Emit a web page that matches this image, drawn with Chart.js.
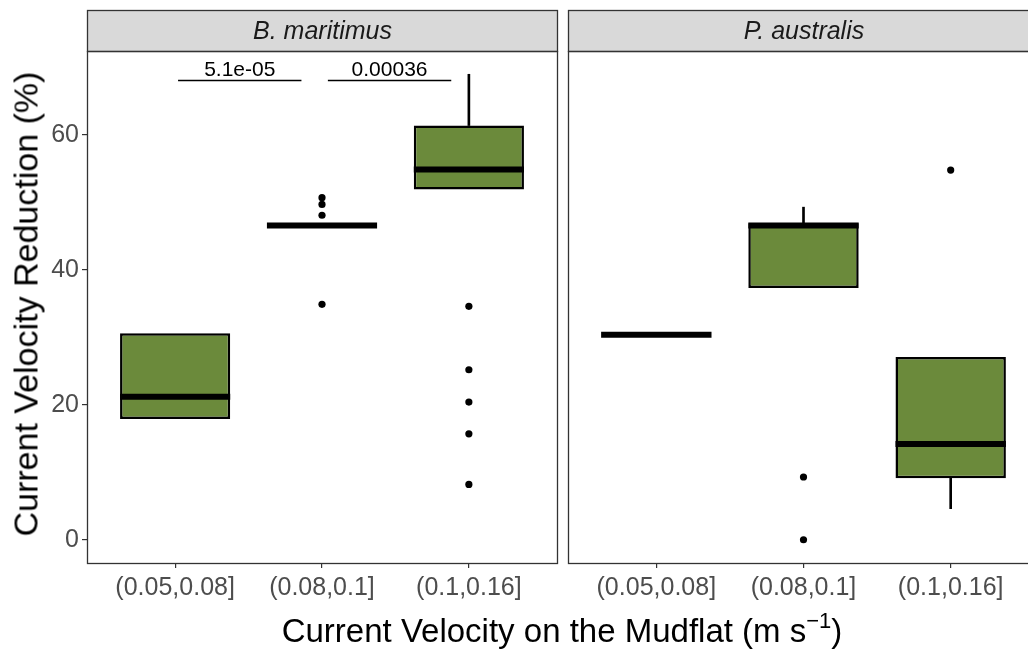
<!DOCTYPE html>
<html><head><meta charset="utf-8">
<script src="https://cdn.jsdelivr.net/npm/chart.js@4.4.1/dist/chart.umd.min.js"></script>
<style>
html,body{margin:0;padding:0;overflow:hidden;background:#fff;width:1028px;height:650px;position:relative;}
#c1{position:absolute;left:0;top:0;}
#c2{position:absolute;left:562px;top:0;}
.ytitle{position:absolute;left:26px;top:304px;transform:translate(-50%,-50%) rotate(-90deg);font:34px "Liberation Sans",Arial,sans-serif;white-space:nowrap;color:#000;}
.xtitle{position:absolute;left:562px;top:630px;transform:translate(-50%,-50%);font:33px "Liberation Sans",Arial,sans-serif;white-space:nowrap;color:#000;}
.xtitle sup{font-size:22px;position:relative;top:-2px;}
</style>
</head><body>
<canvas id="c1" width="562" height="650"></canvas>
<canvas id="c2" width="488" height="650"></canvas>
<div class="ytitle">Current Velocity Reduction (%)</div>
<div class="xtitle">Current Velocity on the Mudflat (m s<sup>&minus;1</sup>)</div>
<script>
// ---- data ----
const categories = ['(0.05,0.08]', '(0.08,0.1]', '(0.1,0.16]'];
const facetLabels = ['B. maritimus', 'P. australis'];
const yTicks = [0, 20, 40, 60];

// B. maritimus
const bmQ1 = [17.9, 46.3, 51.9];
const bmMedian = [21.2, 46.6, 54.9];
const bmQ3 = [30.6, 46.9, 61.4];
const bmWhiskerLow = [17.9, 46.3, 51.9];
const bmWhiskerHigh = [30.6, 46.9, 69.0];
const bmOutliers = [[], [50.7, 49.7, 48.1, 34.9], [34.6, 25.2, 20.4, 15.7, 8.2]];

// P. australis
const paQ1 = [30.4, 37.3, 9.1];
const paMedian = [30.4, 46.6, 14.2];
const paQ3 = [30.4, 46.9, 27.1];
const paWhiskerLow = [30.4, 37.3, 4.6];
const paWhiskerHigh = [30.4, 49.3, 27.1];
const paOutliers = [[], [9.3, 0.0], [54.8]];

// significance annotations (B. maritimus panel)
const sigFrom = [1.02, 2.04];
const sigTo = [1.86, 2.88];
const sigY = [68.2, 68.2];
const sigLabels = ['5.1e-05', '0.00036'];

// ---- styling ----
const FILL = '#6b8a3b';
const FONT = '"Liberation Sans", Arial, sans-serif';
const Y_MIN = -3.45, Y_MAX = 72.45;

function facetPlugin(facetIndex, median, showSig) {
  return {
    id: 'facet' + facetIndex,
    afterDatasetsDraw(chart) {
      const ctx = chart.ctx, xs = chart.scales.x, ys = chart.scales.y;
      ctx.save();
      const half = xs.getPixelForValue(1.375) - xs.getPixelForValue(1);
      ctx.strokeStyle = '#000';
      ctx.lineWidth = 6;
      median.forEach((m, i) => {
        const cx = xs.getPixelForValue(i + 1);
        const y = ys.getPixelForValue(m);
        ctx.beginPath();
        ctx.moveTo(cx - half, y);
        ctx.lineTo(cx + half, y);
        ctx.stroke();
      });
      if (showSig) {
        ctx.lineWidth = 1.5;
        ctx.fillStyle = '#000';
        ctx.font = '21px ' + FONT;
        ctx.textAlign = 'center';
        ctx.textBaseline = 'alphabetic';
        sigLabels.forEach((lab, i) => {
          const x0 = xs.getPixelForValue(sigFrom[i]);
          const x1 = xs.getPixelForValue(sigTo[i]);
          const y = Math.round(ys.getPixelForValue(sigY[i])) + 0.5;
          ctx.beginPath();
          ctx.moveTo(x0, y);
          ctx.lineTo(x1, y);
          ctx.stroke();
          ctx.fillText(lab, (x0 + x1) / 2, y - 5);
        });
      }
      ctx.restore();
    },
    afterDraw(chart) {
      const ctx = chart.ctx, a = chart.chartArea;
      ctx.save();
      const l = Math.round(a.left) + 0.5, r = Math.round(a.right) + 0.5;
      const t = Math.round(a.top) + 0.5, b = Math.round(a.bottom) + 0.5;
      const stripH = 41;
      ctx.fillStyle = '#d9d9d9';
      ctx.fillRect(l, t - stripH, r - l, stripH);
      ctx.strokeStyle = '#333333';
      ctx.lineWidth = 1.3;
      ctx.strokeRect(l, t - stripH, r - l, stripH);
      ctx.fillStyle = '#1a1a1a';
      ctx.font = 'italic 25px ' + FONT;
      ctx.textAlign = 'center';
      ctx.textBaseline = 'middle';
      ctx.fillText(facetLabels[facetIndex], (l + r) / 2, t - stripH / 2 + 1);
      ctx.strokeRect(l, t, r - l, b - t);
      ctx.restore();
    }
  };
}

function buildDatasets(q1, q3, wLow, wHigh, outliers) {
  const upper = [], lower = [], boxes = [], pts = [];
  categories.forEach((c, i) => {
    boxes.push({x: i + 1, y: [q1[i], q3[i]]});
    if (wHigh[i] > q3[i]) upper.push({x: i + 1, y: [q3[i], wHigh[i]]});
    if (wLow[i] < q1[i]) lower.push({x: i + 1, y: [wLow[i], q1[i]]});
    outliers[i].forEach(v => pts.push({x: i + 1, y: v}));
  });
  return [
    {type: 'bar', data: upper, backgroundColor: '#000', barThickness: 2, grouped: false, order: 3},
    {type: 'bar', data: lower, backgroundColor: '#000', barThickness: 2, grouped: false, order: 3},
    {type: 'bar', data: boxes, backgroundColor: FILL, borderColor: '#000', borderWidth: 2.5,
     borderSkipped: false, barPercentage: 0.75, categoryPercentage: 1, grouped: false, order: 2},
    {type: 'scatter', data: pts, backgroundColor: '#000', borderWidth: 0, pointRadius: 3.6, order: 1}
  ];
}

function makeChart(canvasId, facetIndex, q1, median, q3, wLow, wHigh, outliers, showY, padding) {
  return new Chart(document.getElementById(canvasId), {
    type: 'bar',
    data: {datasets: buildDatasets(q1, q3, wLow, wHigh, outliers)},
    plugins: [facetPlugin(facetIndex, median, showY)],
    options: {
      responsive: false,
      animation: false,
      layout: {padding: padding},
      plugins: {legend: {display: false}, tooltip: {enabled: false}},
      scales: {
        x: {
          type: 'linear', min: 0.4, max: 3.6, offset: false,
          afterBuildTicks(s) { s.ticks = categories.map((c, i) => ({value: i + 1})); },
          afterFit(s) { s.height = 87; },
          ticks: {
            callback: (v) => categories[Math.round(v) - 1] || '',
            color: '#4d4d4d', font: {family: FONT, size: 25}, padding: 5, maxRotation: 0, autoSkip: false
          },
          grid: {offset: false, drawOnChartArea: false, drawTicks: true, tickLength: 5, color: '#333333', lineWidth: 1.2},
          border: {display: false}
        },
        y: {
          type: 'linear', min: Y_MIN, max: Y_MAX, display: showY,
          afterBuildTicks(s) { s.ticks = yTicks.map(v => ({value: v})); },
          afterFit(s) { if (showY) s.width = 87; },
          ticks: {color: '#4d4d4d', font: {family: FONT, size: 25}, padding: 3},
          grid: {drawOnChartArea: false, drawTicks: true, tickLength: 5, color: '#333333', lineWidth: 1.2},
          border: {display: false}
        }
      }
    }
  });
}

makeChart('c1', 0, bmQ1, bmMedian, bmQ3, bmWhiskerLow, bmWhiskerHigh, bmOutliers, true,
  {left: 0, right: 5, top: 51, bottom: 0});
makeChart('c2', 1, paQ1, paMedian, paQ3, paWhiskerLow, paWhiskerHigh, paOutliers, false,
  {left: 6, right: 11, top: 51, bottom: 0});
</script>
</body></html>
